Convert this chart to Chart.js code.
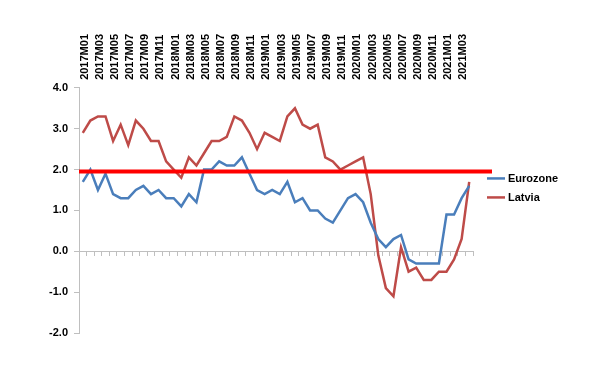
<!DOCTYPE html>
<html>
<head>
<meta charset="utf-8">
<script src="https://cdn.jsdelivr.net/npm/chart.js@4.4.0/dist/chart.umd.min.js"></script>
<style>
  body { margin: 0; background: #fff; }
  #wrap { width: 602px; height: 367px; }
</style>
</head>
<body>
<div id="wrap"><canvas id="chart" width="602" height="367"></canvas></div>
<script>
// monthly HICP inflation, % y/y
var months = [
  "2017M01","2017M02","2017M03","2017M04","2017M05","2017M06","2017M07","2017M08","2017M09","2017M10","2017M11","2017M12",
  "2018M01","2018M02","2018M03","2018M04","2018M05","2018M06","2018M07","2018M08","2018M09","2018M10","2018M11","2018M12",
  "2019M01","2019M02","2019M03","2019M04","2019M05","2019M06","2019M07","2019M08","2019M09","2019M10","2019M11","2019M12",
  "2020M01","2020M02","2020M03","2020M04","2020M05","2020M06","2020M07","2020M08","2020M09","2020M10","2020M11","2020M12",
  "2021M01","2021M02","2021M03","2021M04"
];

var eurozone = [
  1.7, 2.0, 1.5, 1.9, 1.4, 1.3, 1.3, 1.5, 1.6, 1.4, 1.5, 1.3,
  1.3, 1.1, 1.4, 1.2, 2.0, 2.0, 2.2, 2.1, 2.1, 2.3, 1.9, 1.5,
  1.4, 1.5, 1.4, 1.7, 1.2, 1.3, 1.0, 1.0, 0.8, 0.7, 1.0, 1.3,
  1.4, 1.2, 0.7, 0.3, 0.1, 0.3, 0.4, -0.2, -0.3, -0.3, -0.3, -0.3,
  0.9, 0.9, 1.3, 1.6
];

var latvia = [
  2.9, 3.2, 3.3, 3.3, 2.7, 3.1, 2.6, 3.2, 3.0, 2.7, 2.7, 2.2,
  2.0, 1.8, 2.3, 2.1, 2.4, 2.7, 2.7, 2.8, 3.3, 3.2, 2.9, 2.5,
  2.9, 2.8, 2.7, 3.3, 3.5, 3.1, 3.0, 3.1, 2.3, 2.2, 2.0, 2.1,
  2.2, 2.3, 1.4, -0.1, -0.9, -1.1, 0.1, -0.5, -0.4, -0.7, -0.7, -0.5,
  -0.5, -0.2, 0.3, 1.7
];

var target = 1.95;
var yTicks = [-2, -1, 0, 1, 2, 3, 4];

var axisGrey = "#bfbfbf";

// red reference line + legend on the right
var extras = {
  id: "extras",
  afterDatasetsDraw: function (chart) {
    var ctx = chart.ctx;
    var area = chart.chartArea;
    var y = chart.scales.y.getPixelForValue(target);
    ctx.save();
    ctx.strokeStyle = "#ff0000";
    ctx.lineWidth = 4;
    ctx.beginPath();
    ctx.moveTo(area.left, y);
    ctx.lineTo(area.right + 19, y);
    ctx.stroke();

    // legend
    var ly = (area.top + area.bottom) / 2 - 32;
    ctx.font = "bold 11px 'Liberation Sans', Arial, sans-serif";
    ctx.textBaseline = "middle";
    ctx.fillStyle = "#000";
    chart.data.datasets.forEach(function (ds, i) {
      var yy = ly + i * 19;
      ctx.strokeStyle = ds.borderColor;
      ctx.lineWidth = 2.5;
      ctx.beginPath();
      ctx.moveTo(area.right + 14, yy);
      ctx.lineTo(area.right + 32, yy);
      ctx.stroke();
      ctx.fillText(ds.label, area.right + 35, yy + 1);
    });
    ctx.restore();
  }
};

new Chart(document.getElementById("chart").getContext("2d"), {
  type: "line",
  data: {
    labels: months,
    datasets: [
      {
        label: "Eurozone",
        data: eurozone,
        borderColor: "#4a7ebb",
        borderWidth: 2.5,
        pointRadius: 0,
        tension: 0,
        xAxisID: "x"
      },
      {
        label: "Latvia",
        data: latvia,
        borderColor: "#be4b48",
        borderWidth: 2.5,
        pointRadius: 0,
        tension: 0,
        xAxisID: "x"
      }
    ]
  },
  options: {
    responsive: false,
    animation: false,
    layout: { padding: { top: 34, bottom: 34, left: 45, right: 129 } },
    plugins: {
      legend: { display: false },
      tooltip: { enabled: false }
    },
    scales: {
      x: {
        type: "category",
        offset: true,
        position: { y: 0 },
        ticks: { display: false },
        grid: { drawOnChartArea: false, tickLength: 4, color: axisGrey, offset: true },
        border: { color: axisGrey }
      },
      x2: {
        type: "category",
        labels: months,
        offset: true,
        position: "top",
        grid: { display: false },
        border: { display: false },
        ticks: {
          autoSkip: false,
          minRotation: 90,
          maxRotation: 90,
          padding: 0,
          labelOffset: 15,
          color: "#000",
          font: { family: "'Liberation Sans', Arial, sans-serif", size: 11, weight: "bold" },
          callback: function (v, i) { return i % 2 === 0 ? months[i] : ""; }
        }
      },
      y: {
        min: -2,
        max: 4,
        afterFit: function (s) { s.width = 34; },
        afterBuildTicks: function (s) {
          s.ticks = yTicks.map(function (v) { return { value: v }; });
        },
        grid: { drawOnChartArea: false, tickLength: 5, color: axisGrey },
        border: { color: axisGrey },
        ticks: {
          padding: 6,
          color: "#000",
          font: { family: "'Liberation Sans', Arial, sans-serif", size: 11, weight: "bold" },
          callback: function (v) { return v.toFixed(1); }
        }
      }
    }
  },
  plugins: [extras]
});
</script>
</body>
</html>
